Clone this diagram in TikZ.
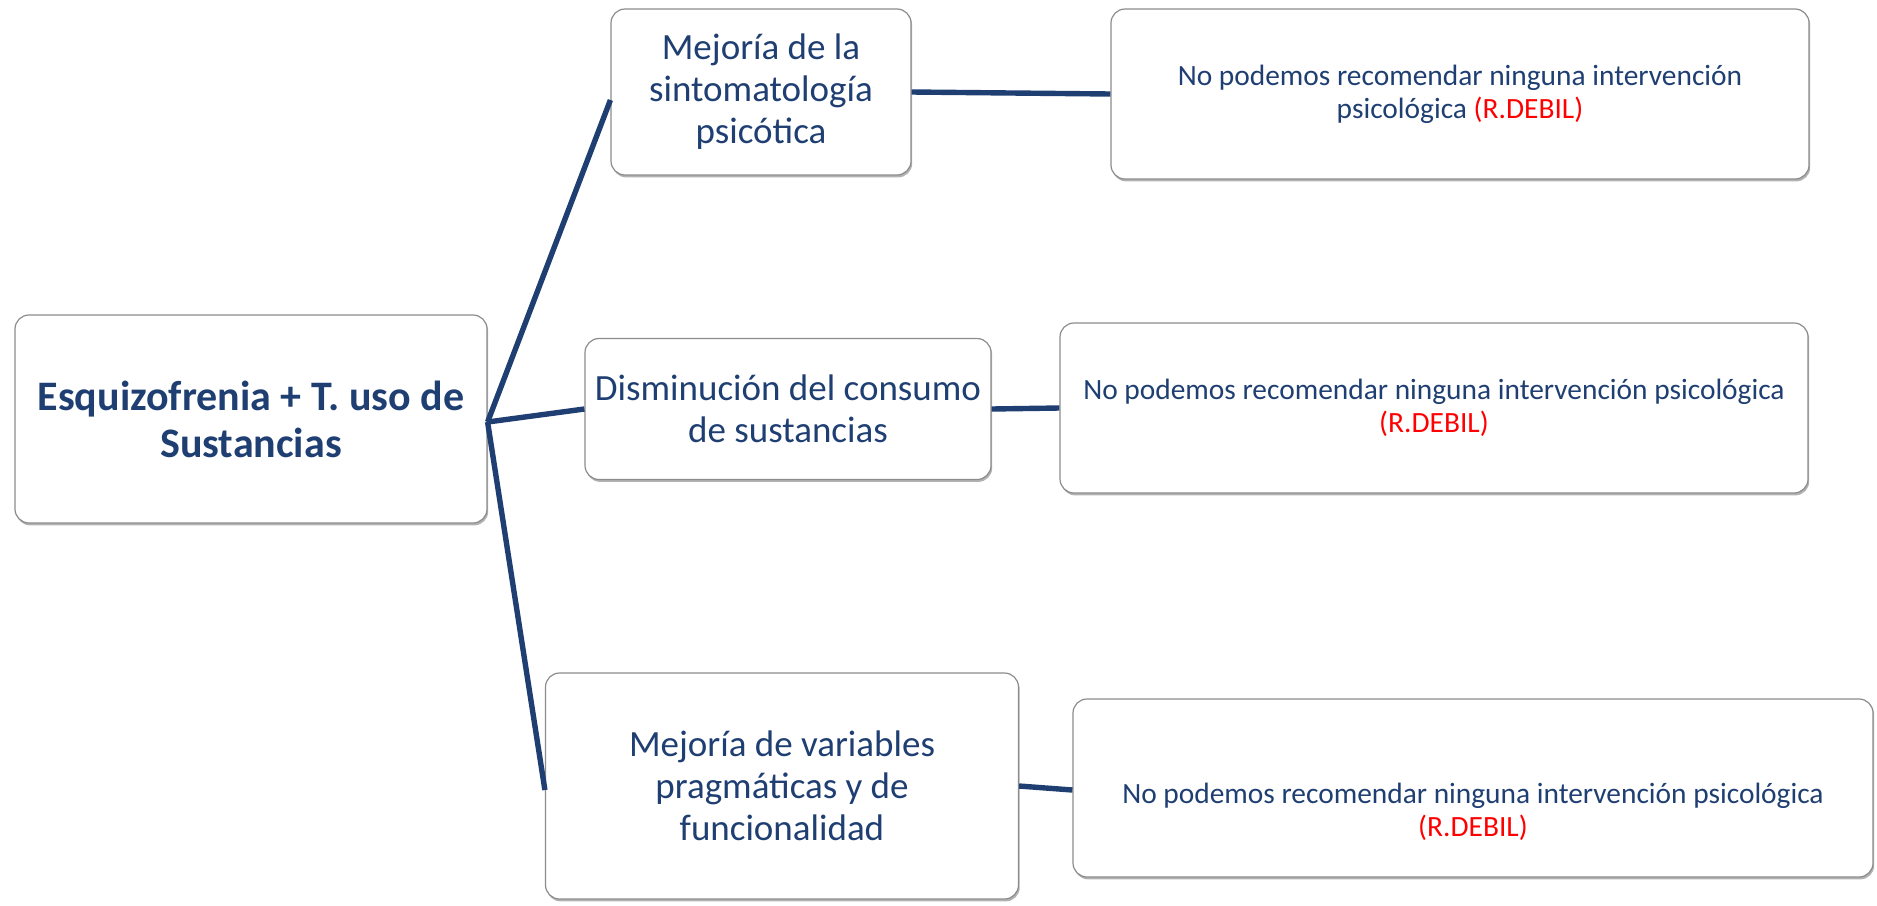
\documentclass[tikz,border=0pt]{standalone}
\usepackage{fontspec}
\setmainfont{Carlito}
\usetikzlibrary{shadows}

\definecolor{darkblue}{HTML}{1F3F73}
\definecolor{boxgray}{HTML}{8C8C8C}

\tikzset{
    box/.style={draw=boxgray, line width=0.6pt, fill=white, rounded corners=7pt,
        align=center, text=darkblue, inner sep=2pt,
        drop shadow={shadow xshift=0.6pt, shadow yshift=-1.2pt, fill=black!60}},
    topic/.style={box, font=\fontsize{18.5}{21}\selectfont},
    notetext/.style={align=center, text=darkblue, font=\fontsize{14.7}{16.5}\selectfont},
    note/.style={box, notetext},
    link/.style={draw=darkblue, line width=2.7pt},
}

\begin{document}
\begin{tikzpicture}[x=0.5pt, y=-0.5pt]
    \useasboundingbox (0,0) rectangle (1877,905);

    % Root
    \node[box, minimum width=236pt, minimum height=104pt,
        font=\fontsize{21}{23.5}\selectfont\bfseries] (root) at (251,419)
        {Esquizofrenia + T. uso de\\Sustancias};
    \coordinate (hub) at ([yshift=-1.5pt]root.east);

    % Outcomes
    \node[topic, minimum width=150pt, minimum height=83pt] (sintomas) at (761,92)
        {Mejoría de la\\sintomatología\\psicótica};
    \node[topic, minimum width=203pt, minimum height=70.5pt] (consumo) at (788,409)
        {Disminución del consumo\\de sustancias};
    \node[topic, minimum width=236.5pt, minimum height=113pt] (funcion) at (782,786)
        {Mejoría de variables\\pragmáticas y de\\funcionalidad};

    % Recommendations
    \node[note, minimum width=349pt, minimum height=85pt] (recSintomas) at (1460,94)
        {No podemos recomendar ninguna intervención\\psicológica \textcolor{red}{(R.DEBIL)}};
    \node[note, minimum width=374pt, minimum height=85pt] (recConsumo) at (1434,408)
        {No podemos recomendar ninguna intervención psicológica\\\textcolor{red}{(R.DEBIL)}};
    \node[note, minimum width=400pt, minimum height=89pt,
        label={[notetext, yshift=-12pt]center:{No podemos recomendar ninguna intervención psicológica\\\textcolor{red}{(R.DEBIL)}}}]
        (recFuncion) at (1473,788) {};

    % Links from root
    \draw[link] (hub) -- ([yshift=-4pt]sintomas.west);
    \draw[link] (hub) -- (consumo.west);
    \draw[link] (hub) -- ([yshift=-2pt]funcion.west);

    % Links to recommendations
    \draw[link] (sintomas.east) -- (recSintomas.west);
    \draw[link] (consumo.east) -- (recConsumo.west);
    \draw[link] (funcion.east) -- ([yshift=-1pt]recFuncion.west);

\end{tikzpicture}
\end{document}
